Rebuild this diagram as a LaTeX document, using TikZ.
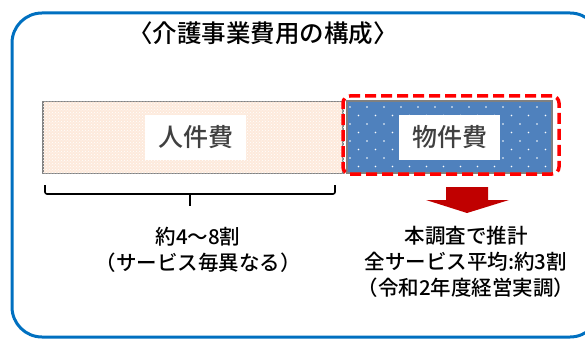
\documentclass[tikz,border=0pt]{standalone}
\usepackage{fontspec}
\setmainfont{Noto Sans CJK JP}[UprightFont=* Medium]
\usetikzlibrary{patterns}
\definecolor{frameblue}{RGB}{0,112,192}
\definecolor{peach}{RGB}{253,234,220}
\definecolor{barblue}{RGB}{79,129,189}
\definecolor{bargray}{RGB}{128,128,128}
\definecolor{labelgray}{RGB}{64,64,64}
\definecolor{arrowred}{RGB}{192,0,0}
\tikzset{
  bar/.style={draw=bargray, line width=1.5pt, minimum height=72pt, inner sep=0pt},
  barlabel/.style={fill=white, inner sep=0pt, minimum width=101pt, minimum height=45pt,
    text=labelgray, font=\fontsize{25}{25}\selectfont},
  note/.style={align=center, font=\fontsize{20.5}{26}\selectfont},
}
\begin{document}
\begin{tikzpicture}[x=1pt,y=-1pt]
\useasboundingbox (0,0) rectangle (585,339);
% frame
\draw[frameblue, line width=3pt, rounded corners=30pt] (12,13) rectangle (600,337);
\node[font=\fontsize{24.5}{24.5}\selectfont] (title) at (263,33) {〈介護事業費用の構成〉};
% cost bars
\node[bar, fill=peach, minimum width=300pt] (labour) at (193,137.5) {};
\fill[pattern=crosshatch dots, pattern color=white] (labour.south west) rectangle (labour.north east);
\node[bar, fill=barblue, minimum width=205pt] (material) at (449.5,137) {};
\begin{scope}
\clip (material.south west) rectangle (material.north east);
\foreach \r in {-1,...,8}
  \foreach \c in {-1,...,12}
    \fill[white] ({350+17*\c+8.5*mod(\r+2,2)},{107+8.5*\r}) circle (0.8pt);
\end{scope}
\node[barlabel] (labourlabel) at (195.5,137.5) {人件費};
\node[barlabel] (materiallabel) at (449.5,137.5) {物件費};
\node[draw=red, line width=3.5pt, dash pattern=on 11pt off 5pt, rounded corners=7pt,
  minimum width=216pt, minimum height=78pt] (focus) at (451,135) {};
% bracket and arrow
\draw[line width=1.6pt, rounded corners=2pt] (45,185) |- (335,194) -- (335,185);
\draw[line width=1.6pt] (190,194) -- (190,206);
\fill[arrowred] (446,187) -- (488,187) -- (488,200) -- (509,200) -- (467,213)
  -- (426,200) -- (446,200) -- cycle;
% notes
\node[note] (share) at (198,250) {約4〜8割\\（サービス毎異なる）};
\node[note] (estimate) at (466,262) {本調査で推計\\全サービス平均:約3割\\（令和2年度経営実調）};
\end{tikzpicture}
\end{document}
